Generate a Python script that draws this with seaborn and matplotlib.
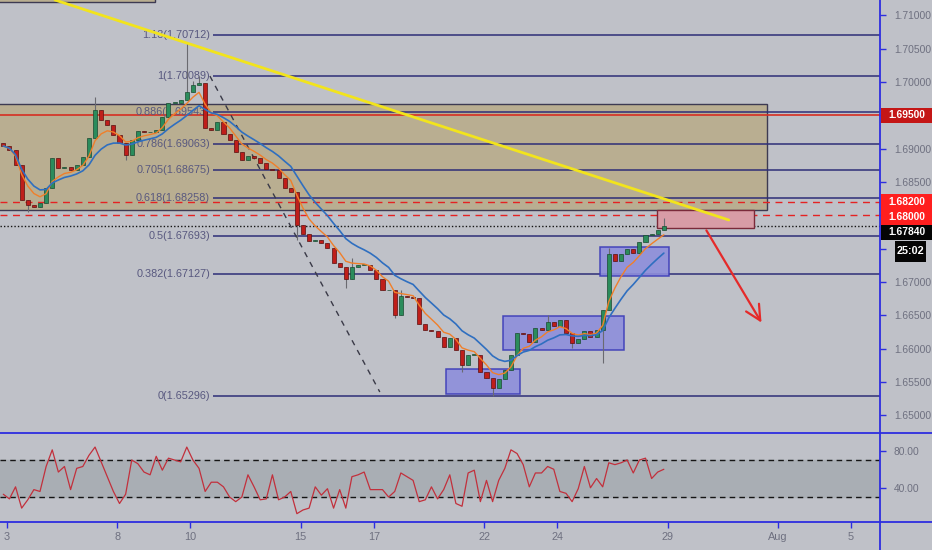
import numpy as np
import pandas as pd
import matplotlib
matplotlib.use("Agg")
import matplotlib.pyplot as plt
import matplotlib.transforms as mtransforms
from matplotlib.patches import Rectangle
from matplotlib.lines import Line2D
import seaborn as sns

# ---------------- data ----------------
first_open = 1.6908
closes = [
    1.6904, 1.6898, 1.6876, 1.6823, 1.6816, 1.6813, 1.6819, 1.6841, 1.6886, 1.6871,
    1.6873, 1.6868, 1.6876, 1.6888, 1.6916, 1.6958, 1.6943, 1.6936, 1.6921, 1.6909,
    1.6891, 1.6913, 1.6927, 1.6925, 1.6925, 1.6928, 1.6948, 1.6969, 1.6969, 1.6973,
    1.6985, 1.6996, 1.6999, 1.6931, 1.6928, 1.6940, 1.6922, 1.6913, 1.6895, 1.6883,
    1.6889, 1.6886, 1.6879, 1.6870, 1.6868, 1.6856, 1.6841, 1.6835, 1.6786, 1.6772,
    1.6762, 1.6763, 1.6759, 1.6751, 1.6729, 1.6723, 1.6705, 1.6723, 1.6726, 1.6726,
    1.6718, 1.6705, 1.6688, 1.6688, 1.6651, 1.6679, 1.6678, 1.6676, 1.6637, 1.6628,
    1.6627, 1.6618, 1.6603, 1.6616, 1.6598, 1.6576, 1.6591, 1.6591, 1.6565, 1.6556,
    1.6541, 1.6555, 1.6568, 1.6591, 1.6624, 1.6622, 1.6610, 1.6631, 1.6628, 1.6640,
    1.6634, 1.6643, 1.6624, 1.6609, 1.6615, 1.6627, 1.6618, 1.6628, 1.6658, 1.6742,
    1.6732, 1.6742, 1.6750, 1.6744, 1.6760, 1.6771, 1.6772, 1.6778, 1.6784]
wick_high = {15: 1.6978, 30: 1.7058, 31: 1.7002, 32: 1.70089, 57: 1.6736,
             65: 1.6688, 89: 1.66505, 99: 1.6751, 108: 1.6796}
wick_low = {4: 1.6805, 20: 1.6883, 48: 1.6763, 56: 1.6691, 64: 1.6646,
            75: 1.6565, 80: 1.65296, 93: 1.6601, 98: 1.65785}
rsi_values = [
    33, 28, 41, 18, 27, 38, 36, 63, 81, 57,
    63, 38, 61, 63, 75, 84, 68, 52, 36, 23,
    33, 70, 66, 57, 54, 74, 59, 72, 70, 68,
    84, 70, 61, 36, 46, 46, 41, 30, 25, 30,
    54, 41, 27, 28, 54, 27, 30, 36, 12, 16,
    18, 41, 32, 39, 18, 38, 18, 52, 54, 57,
    38, 38, 38, 30, 36, 56, 52, 48, 25, 27,
    41, 28, 38, 54, 23, 20, 56, 59, 25, 48,
    25, 48, 61, 81, 77, 65, 41, 56, 56, 63,
    60, 36, 34, 25, 39, 63, 40, 50, 41, 67,
    65, 67, 70, 56, 70, 72, 50, 57, 60]

start_day = -0.1          # trading-day index of first 4H bar (0 = Jul 3)
bars_per_day = 6
day_ticks = [0, 3, 5, 8, 10, 13, 15, 18, 21, 23]
day_labels = ['3', '8', '10', '15', '17', '22', '24', '29', 'Aug', '5']
price_ticks = [1.650, 1.655, 1.660, 1.665, 1.670, 1.675, 1.680, 1.685,
               1.690, 1.695, 1.700, 1.705, 1.710]
hidden_tick_labels = [1.675, 1.680, 1.695]   # covered by price tags
rsi_ticks = [40, 80]

fib_low, fib_high = 1.65296, 1.70089
fib_ratio_labels = ['0', '0.382', '0.5', '0.618', '0.705', '0.786', '0.886', '1', '1.13']
fib_start_day = 5.61
fib_trend = ([5.53, 10.16], [1.70089, 1.6535])

supply_zone = (-0.5, 20.71, 1.6808, 1.6967)       # day0, day1, low, high
top_zone = (-0.5, 4.03, 1.7120, 1.7140)
blue_boxes = [(11.96, 13.98, 1.6532, 1.65695),
              (13.51, 16.81, 1.6598, 1.6649),
              (16.16, 18.04, 1.6709, 1.6752)]
pink_box = (17.71, 20.35, 1.6781, 1.6808)
yellow_line = ([1.31, 19.67], [1.7123, 1.6793])
arrow = ((19.02, 1.6781), (20.6, 1.66355))
red_solid = 1.6950
red_dashed = [1.6820, 1.6800]
last_price = 1.6784
# (box centre price, text, colour)
right_labels = [(1.6950, '1.69500', '#c41616'),
                (1.6820, '1.68200', '#ff1f1f'),
                (1.67975, '1.68000', '#ff1f1f'),
                (1.67743, '1.67840', '#050505')]
timer_label = (1.674575, '25:02')

# ---------------- derived ----------------
n = len(closes)
t = [start_day + i / bars_per_day for i in range(n)]
opens = [first_open] + closes[:-1]
highs = [max(o, c) for o, c in zip(opens, closes)]
lows = [min(o, c) for o, c in zip(opens, closes)]
for k, v in wick_high.items():
    highs[k] = v
for k, v in wick_low.items():
    lows[k] = v
df = pd.DataFrame({'t': t, 'open': opens, 'close': closes, 'high': highs,
                   'low': lows, 'rsi': rsi_values})
df['ema_fast'] = df['close'].ewm(span=5).mean()
df['ema_slow'] = df['close'].ewm(span=11).mean()

# ---------------- style ----------------
sns.set_theme(style='white')
plt.rcParams['font.family'] = ['Liberation Sans', 'DejaVu Sans']
bg = '#bfc1c8'
band = '#a9aeb4'
axis_blue = '#2d2de0'
tick_grey = '#6e7080'
W, H = 932, 550

fig = plt.figure(figsize=(W / 100, H / 100), dpi=100, facecolor=bg)
ax = fig.add_axes([0, 1 - 433 / H, 880 / W, 433 / H])
rax = fig.add_axes([0, 28 / H, 880 / W, 89 / H], sharex=ax)
for a in (ax, rax):
    a.set_facecolor(bg)
    for s in a.spines.values():
        s.set_visible(False)

xlim = (-0.19, 23.79)

# zones
for (d0, d1, lo, hi) in (supply_zone, top_zone):
    ax.add_patch(Rectangle((d0, lo), d1 - d0, hi - lo, facecolor='#b9ae91',
                           edgecolor='#3d3a52', lw=1.0, zorder=1))
for d0, d1, lo, hi in blue_boxes:
    ax.add_patch(Rectangle((d0, lo), d1 - d0, hi - lo, facecolor='#8e8edc',
                           edgecolor='#3a3ab8', lw=1.1, alpha=0.9, zorder=4))
d0, d1, lo, hi = pink_box
ax.add_patch(Rectangle((d0, lo), d1 - d0, hi - lo, facecolor='#d89ca6',
                       edgecolor='#7a2a3a', lw=1.0, zorder=4))

# horizontal levels
ax.axhline(red_solid, color='#d62e22', lw=1.2, zorder=2)
for p in red_dashed:
    ax.axhline(p, color='#e52222', lw=1.0, ls=(0, (5, 4)), zorder=2)
ax.axhline(last_price, color='#151515', lw=1.0, ls=(0, (1, 1.5)), zorder=2)

# fib levels
fib_levels = [fib_low + float(r) * (fib_high - fib_low) for r in fib_ratio_labels]
ax.hlines(fib_levels, fib_start_day, xlim[1], color='#2e2e78', lw=1.1, zorder=2)
for r, lv in zip(fib_ratio_labels, fib_levels):
    ax.text(fib_start_day - 0.08, lv, f"{r}({round(lv + 1e-9, 5):.5f})", ha='right',
            va='center', fontsize=7.8, color='#58587f', zorder=3)
ax.plot(fib_trend[0], fib_trend[1], color='#3a3a48', lw=1.0, ls=(0, (4, 4)), zorder=3)

# candles
up = df['close'] >= df['open']
ax.vlines(df['t'], df['low'], df['high'], color='#6a6a70', lw=0.8, zorder=5)
body = (df['close'] - df['open']).abs().clip(lower=0.00006)
bottom = df[['open', 'close']].min(axis=1)
ax.bar(df['t'][up], body[up], bottom=bottom[up], width=0.11, color='#2b8c5c',
       edgecolor='#1a4a30', lw=0.5, zorder=6)
ax.bar(df['t'][~up], body[~up], bottom=bottom[~up], width=0.11, color='#bf1e1a',
       edgecolor='#5a1010', lw=0.5, zorder=6)

# moving averages
sns.lineplot(data=df, x='t', y='ema_fast', ax=ax, color='#f07f2a', lw=1.0, zorder=7)
sns.lineplot(data=df, x='t', y='ema_slow', ax=ax, color='#2f6fc0', lw=1.2, zorder=7)

# yellow trend line and arrow
ax.plot(yellow_line[0], yellow_line[1], color='#f2e41c', lw=2.0, zorder=8)
ax.annotate('', xy=arrow[1], xytext=arrow[0],
            arrowprops=dict(arrowstyle='->,head_length=0.9,head_width=0.45',
                            color='#e52a2a', lw=1.6), zorder=9)

ax.set_xlim(*xlim)
ax.set_ylim(1.64735, 1.7123)
ax.set_xlabel('')
ax.set_ylabel('')
ax.yaxis.tick_right()
ax.set_yticks(price_ticks)
ax.set_yticklabels(['' if any(abs(p - h) < 1e-9 for h in hidden_tick_labels)
                    else f"{p:.5f}" for p in price_ticks])
ax.tick_params(axis='y', right=True, length=4, width=1, color=axis_blue,
               labelcolor=tick_grey, labelsize=7.4, pad=6)
ax.tick_params(axis='x', bottom=False, labelbottom=False)

# right-hand price tags
trans = mtransforms.blended_transform_factory(ax.transAxes, ax.transData)
box_h = 0.00225
x0, x1 = 881 / 880, 932 / 880
for p, txt, col in right_labels:
    ax.add_patch(Rectangle((x0, p - box_h / 2), x1 - x0, box_h, transform=trans,
                           facecolor=col, edgecolor='none', clip_on=False, zorder=10))
    ax.text(888 / 880, p, txt, transform=trans, ha='left', va='center', fontsize=7.4,
            fontweight='bold', color='white', clip_on=False, zorder=11)
tx0, tx1 = 895 / 880, 926 / 880
ax.add_patch(Rectangle((tx0, timer_label[0] - 0.00155), tx1 - tx0, 0.0031, transform=trans,
                       facecolor='#050505', edgecolor='none', clip_on=False, zorder=10))
ax.text((tx0 + tx1) / 2, timer_label[0], timer_label[1], transform=trans, ha='center',
        va='center', fontsize=7.8, fontweight='bold', color='white', clip_on=False, zorder=11)

# RSI panel
rax.axhspan(30, 70, color=band, zorder=0)
rax.axhline(70, color='#151515', lw=1.0, ls=(0, (4, 3)), zorder=2)
rax.axhline(30, color='#151515', lw=1.0, ls=(0, (4, 3)), zorder=2)
sns.lineplot(data=df, x='t', y='rsi', ax=rax, color='#c2303c', lw=0.9, zorder=3)
rax.set_ylim(3, 99.2)
rax.set_xlim(*xlim)
rax.set_xlabel('')
rax.set_ylabel('')
rax.yaxis.tick_right()
rax.set_yticks(rsi_ticks)
rax.set_yticklabels([f"{v:.2f}" for v in rsi_ticks])
rax.tick_params(axis='y', right=True, length=4, width=1, color=axis_blue,
                labelcolor=tick_grey, labelsize=7.4, pad=6)
rax.set_xticks(day_ticks)
rax.set_xticklabels(day_labels)
rax.tick_params(axis='x', bottom=True, length=4, width=1, color=axis_blue,
                labelcolor=tick_grey, labelsize=7.8, pad=3)

# panel frame lines
fig.add_artist(Line2D([880 / W, 880 / W], [0, 1], color=axis_blue, lw=1.3))
fig.add_artist(Line2D([0, 1], [1 - 433 / H, 1 - 433 / H], color=axis_blue, lw=1.3))
fig.add_artist(Line2D([0, 1], [28 / H, 28 / H], color=axis_blue, lw=1.3))

fig.savefig('out.png', dpi=100, facecolor=bg)
